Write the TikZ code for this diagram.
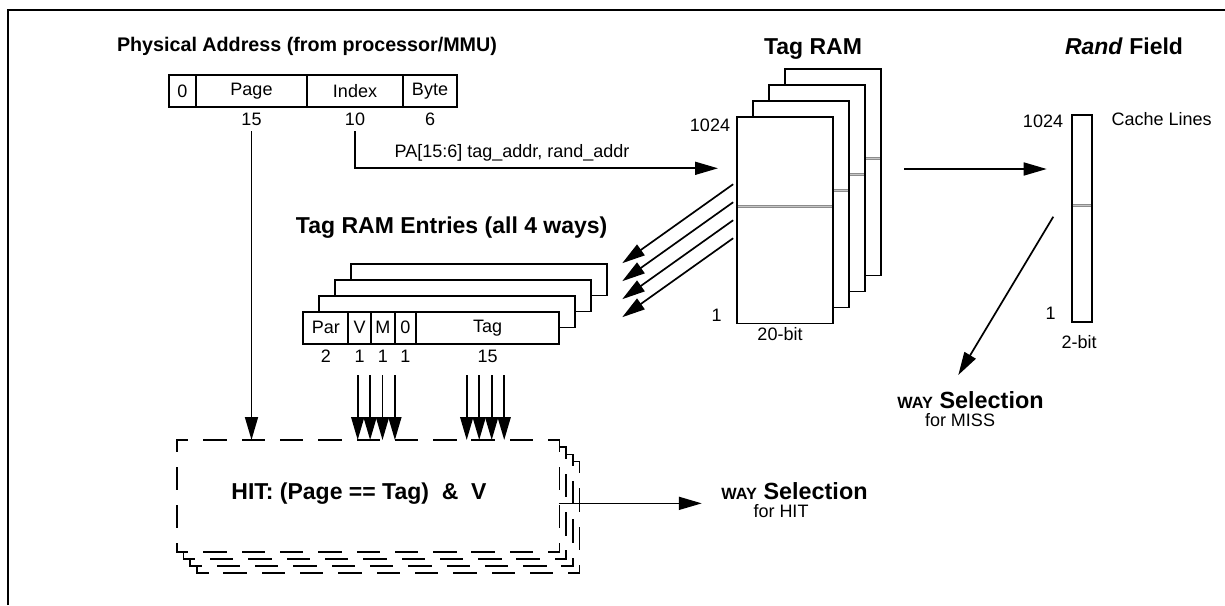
\documentclass[tikz,border=0pt]{standalone}
\usepackage{fontspec}
\setmainfont{Liberation Sans}
\usetikzlibrary{arrows.meta,positioning}

\begin{document}
\begin{tikzpicture}[
    x=1pt, y=-1pt,
    line width=1.7pt,
    every node/.style={font=\fontsize{18}{21}\selectfont, outer sep=0pt},
    heading/.style={font=\fontsize{23}{27}\selectfont\bfseries, anchor=base},
    field/.style={draw, fill=white, inner sep=0pt, minimum height=32pt, anchor=north west},
    layer/.style={draw, fill=white, inner sep=0pt, anchor=north west},
    hitlayer/.style={fill=white, inner sep=0pt, minimum width=382.7pt,
      minimum height=111.7pt, anchor=north west},
    hitedge/.style={dash pattern=on 21.7pt off 16.6pt, dash phase=10.85pt, line cap=rect},
    arr/.style={-{Triangle[length=23pt,width=13pt]}},
    split/.style={draw=gray!90, double=gray!45, double distance=0.9pt, line width=1.2pt,
      shorten >=0.8pt, shorten <=0.8pt},
    waybig/.style={font=\fontsize{23.4}{27}\selectfont\bfseries, anchor=base}
  ]
  \useasboundingbox (0,0) rectangle (1225,605);
  \draw[line width=2pt] (8,605) -- (8,10) -- (1225,10);

  % physical address
  \node[heading, font=\fontsize{19.7}{24}\selectfont\bfseries] (patitle) at (307,51) {Physical Address (from processor/MMU)};
  \node[field, minimum width=27pt]  (pzero) at (169,75) {0};
  \node[field, minimum width=111pt] (page)  at (196,75) {Page};
  \node[field, minimum width=96pt]  (index) at (307,75) {Index};
  \node[field, minimum width=54pt]  (byte)  at (403,75) {Byte};
  \node[below=3pt of page]  (pagebits)  {15};
  \node[below=3pt of index] (indexbits) {10};
  \node[below=3pt of byte]  (bytebits)  {6};

  % tag ram
  \node[heading] (ramtitle) at (813,54.5) {Tag RAM};
  \foreach \i in {3,2,1,0} {
    \node[layer, minimum width=96pt, minimum height=206.7pt] (ram\i) at ({736.7+16*\i},{116.7-16*\i}) {};
    \draw[split] ([yshift=-90pt]ram\i.north west) -- ([yshift=-90pt]ram\i.north east);
  }
  \node (ramtop)   at (710,125)   {1024};
  \node (rambot)   at (716.7,315) {1};
  \node (ramwidth) at (780,334)   {20-bit};

  % address to tag ram
  \coordinate (ramin) at (718,168.3);
  \draw[arr] ([yshift=-2pt]indexbits.south) |- (ramin);
  \node (addrlabel) at (512,153) {PA[15:6] tag\_addr, rand\_addr};

  % ram to entries
  \foreach \k in {0,...,3}
    \draw[arr] ([xshift=-3.5pt,yshift={-67.5-18*\k}]ram0.north west) -- ++(-111,79);

  % rand field
  \node[heading] (randtitle) at (1124,54.5) {\textit{Rand} Field};
  \node[layer, minimum width=20.3pt, minimum height=206.7pt] (rand) at (1071.7,115) {};
  \draw[split] ([yshift=-90.7pt]rand.north west) -- ([yshift=-90.7pt]rand.north east);
  \node (randtop)   at (1043,121.7)  {1024};
  \node (randbot)   at (1050.7,313)  {1};
  \node (randwidth) at (1079,341.7)  {2-bit};
  \node[anchor=west, inner sep=0pt] (cachelines) at (1111.7,119) {Cache Lines};
  \coordinate (ramout) at (904,169);
  \coordinate (randin) at (1046.7,169);
  \draw[arr] (ramout) -- (randin);
  \coordinate (randout) at (1053.3,216.7);
  \coordinate (missin)  at (958.3,375);
  \draw[arr] (randout) -- (missin);
  \node[waybig] (waymiss) at (970.5,408.3) {{\fontsize{16.3}{19}\selectfont WAY} Selection};
  \node[anchor=base] (formiss) at (960,426.7) {for MISS};

  % tag ram entries
  \node[heading] (enttitle) at (451.7,233.3) {Tag RAM Entries (all 4 ways)};
  \foreach \i in {3,2,1}
    \node[layer, minimum width=256pt, minimum height=31.7pt] (ent\i) at ({303.3+16*\i},{311.7-16*\i}) {};
  \node[field, minimum width=45pt]    (par)  at (303.3,311.7) {Par};
  \node[field, minimum width=22.7pt]  (vbit) at (348.3,311.7) {V};
  \node[field, minimum width=23.7pt]  (mbit) at (371,311.7)   {M};
  \node[field, minimum width=21.3pt]  (zbit) at (394.7,311.7) {0};
  \node[field, minimum width=143.3pt] (tag)  at (416,311.7)   {Tag};
  \node[below=3pt of par]  (parbits) {2};
  \node[below=3pt of vbit] (vbits)   {1};
  \node[below=3pt of mbit] (mbits)   {1};
  \node[below=3pt of zbit] (zbits)   {1};
  \node[below=3pt of tag]  (tagbits) {15};

  % hit logic
  \foreach \i in {3,2,1,0} {
    \node[hitlayer] (hit\i) at ({176.7+6.7*\i},{440+7.2*\i}) {};
    \draw[hitedge] (hit\i.north west) -- (hit\i.north east);
    \draw[hitedge] (hit\i.north east) -- (hit\i.south east);
    \draw[hitedge] (hit\i.south west) -- (hit\i.south east);
    \draw[hitedge] (hit\i.north west) -- (hit\i.south west);
  }
  \node[heading] (hittext) at (359,499) {HIT: (Page == Tag)\ \ \&\ \ V};
  \draw[arr] ([yshift=-2pt]pagebits.south) -- (pagebits |- hit0.north);
  \foreach \n in {0,...,3} {
    \coordinate (vm\n) at ({357.7+12.4*\n},375);
    \coordinate (tg\n) at ({466.7+12.5*\n},375);
    \draw[arr] (vm\n) -- (vm\n |- hit0.north);
    \draw[arr] (tg\n) -- (tg\n |- hit0.north);
  }
  \draw[arr] ([yshift=-7.5pt]hit0.east) -- ++(142.4,0) coordinate (hitin);
  \node[waybig] (wayhit) at (794.5,499.3) {{\fontsize{16.3}{19}\selectfont WAY} Selection};
  \node[anchor=base] (forhit) at (781,517.6) {for HIT};
\end{tikzpicture}
\end{document}
